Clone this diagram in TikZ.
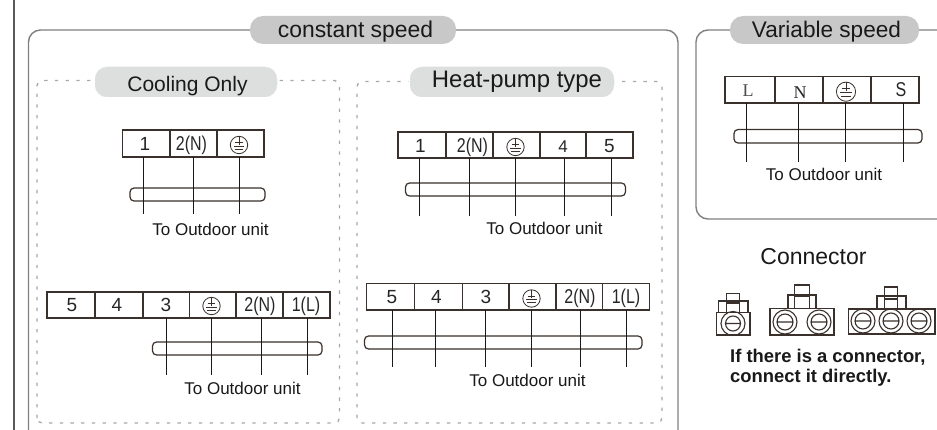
\documentclass[tikz,border=0pt]{standalone}
\usepackage{fontspec}
\setmainfont{Liberation Sans}
\newfontfamily\serifx{Liberation Serif}
\definecolor{ink}{HTML}{3A302C}
\definecolor{frame}{HTML}{808080}
\definecolor{pilldark}{HTML}{C8C8C8}
\definecolor{pilllight}{HTML}{DDDFDE}
\definecolor{dashc}{HTML}{A8A8A8}
\newcommand{\fs}[1]{\fontsize{#1pt}{#1pt}\selectfont}
\newcommand{\nar}[1]{\fs{20}\scalebox{.8}[1]{#1}}
% name x1 x2 y1 y2 cx baseline label
\newcommand{\tcell}[8]{%
  \node[cellbox,minimum width=#3pt-#2pt,minimum height=#5pt-#4pt] (#1) at ({(#2+#3)/2},{(#4+#5)/2}) {};
  \node[anchor=base,inner sep=0pt,text=black!85] (#1t) at (#6,#7) {#8};}
\newcommand{\earthsym}[3]{%
  \draw[ink,line width=.8pt] (#1,#2) circle (#3pt);
  \draw[ink,line width=.7pt] (#1-.42*#3,#2-.3*#3) -- (#1+.42*#3,#2-.3*#3) (#1,#2-#3) -- (#1,#2-.05*#3) (#1-.6*#3,#2+.12*#3) -- (#1+.6*#3,#2+.12*#3) (#1-.5*#3,#2+.45*#3) -- (#1+.5*#3,#2+.45*#3);}
% tube: name x1 x2 y1 y2
\newcommand{\tube}[5]{%
  \node[tubebox,minimum width=#3pt-#2pt,minimum height=#5pt-#4pt] (#1) at ({(#2+#3)/2},{(#4+#5)/2}) {};}
% wire: from cell, x, end y, name
\newcommand{\wire}[4]{%
  \coordinate (#4) at (#2,#3);
  \draw[wirel] (#4 |- #1.south) -- (#4);}
\newcommand{\screw}[4]{%
  \draw[ink,line width=1.1pt] (#1,#2) circle (#3pt) circle (#4pt) (#1-#4,#2) -- (#1+#4,#2);}
\newcommand{\boxr}[4]{\draw[ink,line width=1.1pt] (#1,#3) rectangle (#2,#4);}
\tikzset{
  x=1pt,y=-1pt,
  cellbox/.style={draw=ink,line width=1.3pt,fill=white,rectangle,inner sep=0pt,outer sep=0pt},
  tubebox/.style={draw=ink,line width=1.2pt,rectangle,rounded corners=4pt,inner sep=0pt,outer sep=0pt},
  wirel/.style={draw=black!90,line width=1.5pt},
  frameline/.style={draw=frame,line width=1.4pt,rounded corners=12pt},
  dashline/.style={draw=dashc,line width=1.3pt,dash pattern=on 3.3pt off 7.4pt,rounded corners=5pt},
  pill/.style={rectangle,inner sep=0pt,outer sep=0pt,rounded corners=13pt},
  pilla/.style={pill,fill=pilldark,minimum height=28pt},
  pillb/.style={pill,fill=pilllight,draw=white,line width=1.5pt,minimum height=32pt},
  txt/.style={anchor=base,inner sep=0pt,text=black!90},
  small/.style={txt,font=\fs{17}},
}
\begin{document}
\begin{tikzpicture}
\useasboundingbox (0,0) rectangle (937,430);
\fill[white] (0,0) rectangle (937,430);
% page edge
\draw[black!65,line width=2pt] (13.5,0) -- (13.5,430);
% frames
\draw[frameline] (28.5,430) -- (28.5,30) -- (678,30) -- (678,430);
\draw[frameline] (937,30) -- (696,30) -- (696,219) -- (937,219);
\node[pilla,minimum width=206pt] (pconst) at (353,30) {};
\node[txt,font=\fs{22.9}] (tconst) at (355.5,38) {constant speed};
\node[pilla,minimum width=189pt] (pvar) at (824.5,30) {};
\node[txt,font=\fs{22.6}] (tvar) at (826.5,37.5) {Variable speed};
% dashed
\draw[dashline] (37,423) rectangle (339.5,80.5);
\draw[dashline] (357,423) rectangle (662,81.5);
\node[pillb,minimum width=184pt] (pcool) at (186,82) {};
\node[txt,font=\fs{21}] (tcool) at (187.5,91.5) {Cooling Only};
\node[pillb,minimum width=206pt] (pheat) at (512,82) {};
\node[txt,font=\fs{23.9}] (theat) at (517,87.5) {Heat-pump type};

% --- cooling upper
\tube{t1}{130}{265}{188}{201}
\begingroup\fs{19}
\tcell{a1}{122.5}{170}{130}{157}{145}{150.7}{1}
\tcell{a2}{170}{217}{130}{157}{191.5}{150.7}{\nar{2(N)}}
\tcell{a3}{217}{264}{130}{157}{239.5}{150.7}{}
\endgroup
\earthsym{239}{145}{8.7}
\wire{a1}{143.5}{214}{a1e}
\wire{a2}{193.5}{214}{a2e}
\wire{a3}{239.5}{214}{a3e}
\node[small] (ta) at (210.5,236) {To Outdoor unit};

% --- cooling lower
\tube{t2}{152.5}{322}{342}{355}
\begingroup\fs{19}
\tcell{b1}{47}{95}{292}{318}{72}{311.7}{5}
\tcell{b2}{95}{143}{292}{318}{117}{311.7}{4}
\tcell{b3}{143}{189.5}{292}{318}{166}{311.7}{3}
\tcell{b4}{189.5}{236}{292}{318}{211}{311.7}{}
\tcell{b5}{236}{283}{292}{318}{260}{311.7}{\nar{2(N)}}
\tcell{b6}{283}{330}{292}{318}{306}{311.7}{\nar{1(L)}}
\endgroup
\earthsym{211.5}{306}{8.7}
\wire{b3}{166.5}{375}{b3e}
\wire{b4}{211.5}{375}{b4e}
\wire{b5}{261.5}{375}{b5e}
\wire{b6}{307.5}{375}{b6e}
\node[small] (tb) at (242.5,394) {To Outdoor unit};

% --- heat pump upper
\tube{t3}{405.5}{625.5}{183}{196}
\begingroup\fs{19}
\tcell{c1}{398}{446}{132}{158}{420.5}{152.7}{1}
\tcell{c2}{446}{493}{132}{158}{472.5}{152.7}{\nar{2(N)}}
\tcell{c3}{493}{540}{132}{158}{516}{152.7}{}
\tcell{c4}{540}{586}{132}{158}{563}{152.7}{\fs{17}4}
\tcell{c5}{586}{633}{132}{158}{609.5}{152.7}{5}
\endgroup
\earthsym{515.5}{147}{8.7}
\wire{c1}{419.5}{216}{c1e}
\wire{c2}{469.5}{216}{c2e}
\wire{c3}{515.5}{216}{c3e}
\wire{c4}{564.5}{216}{c4e}
\wire{c5}{611.5}{216}{c5e}
\node[small] (tc) at (544.5,235) {To Outdoor unit};

% --- heat pump lower
\tube{t4}{364.5}{642}{336}{349}
\begingroup\fs{19}
\tcell{d1}{366.5}{414.5}{283.5}{310}{392}{303.3}{5}
\tcell{d2}{414.5}{462.5}{283.5}{310}{436.5}{303.3}{4}
\tcell{d3}{462.5}{509}{283.5}{310}{486}{303.3}{3}
\tcell{d4}{509}{556}{283.5}{310}{531}{303.3}{}
\tcell{d5}{556}{602.5}{283.5}{310}{580}{303.3}{\nar{2(N)}}
\tcell{d6}{602.5}{649.5}{283.5}{310}{626}{303.3}{\nar{1(L)}}
\endgroup
\earthsym{531.5}{298.5}{8.7}
\wire{d1}{392.5}{367}{d1e}
\wire{d2}{435.5}{367}{d2e}
\wire{d3}{485.5}{367}{d3e}
\wire{d4}{531.5}{367}{d4e}
\wire{d5}{580.5}{367}{d5e}
\wire{d6}{626.5}{367}{d6e}
\node[small] (td) at (527.5,386.7) {To Outdoor unit};

% --- variable speed
\tube{t5}{734}{922}{129.5}{143}
\begingroup\fs{18}
\tcell{e1}{725}{775}{76.5}{103}{748}{96.7}{\serifx\color{black!70}L}
\tcell{e2}{775}{823}{76.5}{103}{800}{98.7}{\serifx N}
\tcell{e3}{823}{871}{76.5}{103}{847}{96.7}{}
\tcell{e4}{871}{919}{76.5}{103}{901}{96.7}{\nar{S}}
\endgroup
\earthsym{846}{91.7}{9.6}
\wire{e1}{746.5}{162}{e1e}
\wire{e2}{798.5}{162}{e2e}
\wire{e3}{845.5}{162}{e3e}
\wire{e4}{903.5}{162}{e4e}
\node[small] (te) at (824,181) {To Outdoor unit};

% --- connector
\node[txt,font=\fs{23}] (tconn) at (813.5,265) {Connector};
% single
\boxr{718.5}{748}{301}{312.7}
\boxr{726.5}{739.5}{293.5}{303}
\boxr{726.5}{739.5}{303}{312.7}
\boxr{716.7}{750}{312.7}{335}
\screw{733}{323.5}{12}{7.5}
% double
\boxr{788}{816}{295}{308.5}
\boxr{794.5}{809.5}{285}{296}
\boxr{794.5}{809.5}{296}{308.5}
\boxr{770}{834}{308.5}{335}
\screw{785}{322}{12}{8}
\screw{819}{322}{12}{8}
% triple
\boxr{877}{906}{296}{309}
\boxr{884.5}{897.5}{287}{299}
\boxr{884.5}{897.5}{299}{309}
\boxr{848.5}{935}{309}{334}
\screw{863}{321}{12}{8}
\screw{891}{321}{12}{8}
\screw{919}{321}{12}{8}
\node[txt,font=\fs{18.4}\bfseries,anchor=base west] (tn1) at (730,362.7) {If there is a connector,};
\node[txt,font=\fs{18.4}\bfseries,anchor=base west] (tn2) at (730,382.7) {connect it directly.};
\end{tikzpicture}
\end{document}
